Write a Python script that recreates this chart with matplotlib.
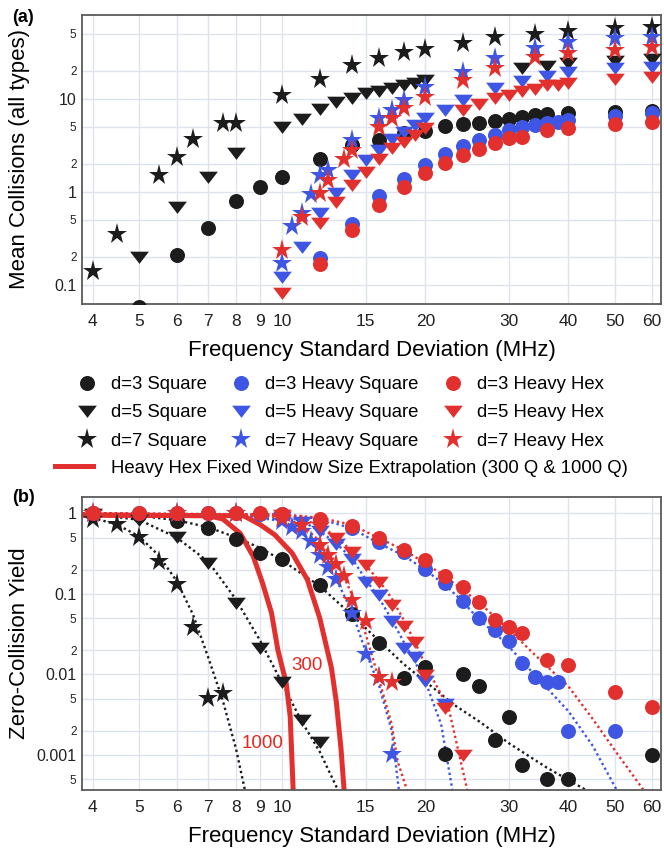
import matplotlib
matplotlib.use('Agg')
import matplotlib.pyplot as plt
from matplotlib.ticker import FixedLocator, FixedFormatter, NullLocator
from matplotlib.lines import Line2D

plt.rcParams['font.family'] = ['Liberation Sans', 'DejaVu Sans']

BLACK = '#1c1c1c'
BLUE = '#3e56e3'
RED = '#e2302f'

# ---------------- panel (a): mean collisions ----------------
a_sq3_x = [5, 6, 7, 8, 9, 10, 12, 14, 16, 18, 20, 22, 24, 26, 28, 30, 32, 34, 36, 40, 50, 60]
a_sq3_y = [0.058, 0.21, 0.41, 0.8, 1.13, 1.45, 2.23, 3.18, 3.6, 4.3, 4.5, 5.1, 5.38, 5.5, 5.78, 6.1, 6.4,
           6.6, 6.8, 7.0, 7.2, 7.3]
a_sq5_x = [5, 6, 7, 8, 10, 11, 12, 13, 14, 15, 16, 17, 18, 19, 20, 32, 36, 40, 50, 60]
a_sq5_y = [0.2, 0.68, 1.45, 2.63, 5.0, 6.1, 7.8, 9.3, 10.1, 11.5, 12.2, 12.9, 14.1, 14.9, 15.9, 21.2, 22.4,
           24.0, 25.5, 26.4]
a_sq7_x = [4, 4.5, 5.5, 6, 6.5, 7.5, 8, 10, 12, 14, 16, 18, 20, 24, 28, 34, 40, 50, 60]
a_sq7_y = [0.14, 0.35, 1.5, 2.38, 3.66, 5.43, 5.43, 11.0, 16.2, 23.0, 27.5, 32.0, 34.0, 40.0, 45.5, 50.0,
           53.5, 57.0, 58.5]

a_hs3_x = [12, 14, 16, 18, 20, 22, 24, 26, 28, 30, 32, 34, 36, 38, 40, 50, 60]
a_hs3_y = [0.195, 0.45, 0.89, 1.36, 1.94, 2.56, 3.1, 3.6, 4.1, 4.6, 4.95, 5.25, 5.5, 5.6, 5.9, 6.5, 6.96]
a_hs5_x = [10, 11, 12, 13, 14, 15, 16, 17, 18, 19, 20, 22, 24, 28, 32, 36, 40, 50, 60]
a_hs5_y = [0.12, 0.256, 0.59, 0.96, 1.51, 2.19, 2.8, 3.66, 4.42, 5.2, 6.15, 7.6, 9.7, 12.9, 15.5, 17.7,
           19.2, 21.2, 22.0]
a_hs7_x = [10, 10.5, 11, 11.5, 12, 12.5, 14, 16, 17, 18, 20, 24, 28, 34, 40, 50, 60]
a_hs7_y = [0.17, 0.43, 0.59, 0.94, 1.51, 1.71, 3.6, 6.15, 7.56, 9.68, 13.5, 19.5, 27.2, 34.8, 41.0,
           44.6, 46.4]

a_hh3_x = [12, 14, 16, 18, 20, 22, 24, 26, 28, 30, 32, 36, 40, 50, 60]
a_hh3_y = [0.168, 0.39, 0.72, 1.13, 1.59, 2.05, 2.45, 2.9, 3.31, 3.75, 3.9, 4.56, 4.8, 5.4, 5.6]
a_hh5_x = [10, 12, 13, 14, 15, 16, 17, 18, 19, 20, 24, 26, 28, 30, 32, 34, 36, 38, 40, 50, 60]
a_hh5_y = [0.081, 0.46, 0.78, 1.18, 1.64, 2.23, 2.93, 3.45, 4.07, 4.8, 7.56, 8.8, 10.1, 11.0, 12.1,
           12.7, 14.0, 14.0, 14.6, 16.2, 17.2]
a_hh7_x = [10, 11, 12, 12.5, 13.5, 14, 16, 17, 18, 20, 24, 28, 34, 40, 50, 60]
a_hh7_y = [0.236, 0.54, 0.97, 1.35, 2.23, 2.8, 4.92, 6.15, 7.88, 10.5, 15.9, 21.2, 28.3, 30.8, 33.4, 36.3]

# ---------------- panel (b): zero-collision yield ----------------
b_sq3_x = [4, 5, 6, 7, 8, 9, 10, 12, 14, 16, 18, 20, 22, 24, 26, 28, 30, 32, 36, 40, 60]
b_sq3_y = [1.0, 0.95, 0.79, 0.66, 0.485, 0.32, 0.273, 0.128, 0.056, 0.0244, 0.0091, 0.0125, 0.00102,
           0.0102, 0.0071, 0.00154, 0.003, 0.00075, 0.0005, 0.0005, 0.001]
b_sq5_x = [4, 5, 6, 7, 8, 9, 10, 11, 12]
b_sq5_y = [0.98, 0.83, 0.51, 0.24, 0.076, 0.021, 0.0081, 0.0027, 0.00147]
b_sq7_x = [4, 4.5, 5, 5.5, 6, 6.5, 7, 7.5]
b_sq7_y = [0.86, 0.73, 0.51, 0.258, 0.133, 0.0385, 0.0051, 0.0059]

b_hs3_x = [4, 5, 6, 7, 8, 9, 10, 12, 14, 16, 18, 20, 22, 24, 26, 28, 30, 32, 34, 36, 38, 40, 50]
b_hs3_y = [1.0, 1.0, 1.0, 1.0, 1.0, 0.99, 0.97, 0.82, 0.66, 0.44, 0.33, 0.204, 0.135, 0.081, 0.05,
           0.0357, 0.026, 0.014, 0.0092, 0.0081, 0.0081, 0.002, 0.002]
b_hs5_x = [10, 11, 12, 13, 14, 15, 16, 17, 18, 19, 20, 22]
b_hs5_y = [0.9, 0.78, 0.6, 0.42, 0.27, 0.14, 0.097, 0.046, 0.0216, 0.0166, 0.0082, 0.0043]
b_hs7_x = [4, 6, 8, 10, 10.5, 11, 11.5, 12, 12.5, 13, 14, 15, 16, 17]
b_hs7_y = [1.0, 1.0, 1.0, 0.8, 0.68, 0.6, 0.45, 0.3, 0.216, 0.152, 0.058, 0.0178, 0.0092, 0.00102]

b_hh3_x = [4, 5, 6, 7, 8, 9, 10, 12, 14, 16, 18, 20, 22, 24, 26, 28, 30, 32, 36, 40, 50, 60]
b_hh3_y = [1.0, 1.0, 1.0, 1.0, 1.0, 1.0, 0.99, 0.86, 0.7, 0.5, 0.35, 0.264, 0.167, 0.12, 0.079, 0.0474,
           0.039, 0.0325, 0.0152, 0.0131, 0.006, 0.004]
b_hh5_x = [10, 12, 13, 14, 15, 16, 17, 18, 19, 20, 22, 24]
b_hh5_y = [0.95, 0.68, 0.49, 0.33, 0.226, 0.139, 0.073, 0.04, 0.025, 0.0099, 0.0038, 0.001]
b_hh7_x = [4, 6, 8, 10, 11, 12, 12.5, 13, 13.5, 14, 15, 16, 17]
b_hh7_y = [1.0, 1.0, 1.0, 0.88, 0.71, 0.4, 0.3, 0.235, 0.165, 0.085, 0.046, 0.0092, 0.0081]

# dotted fit curves
fit_sq3_x = [3.8, 5, 6, 7, 8, 9, 10, 12, 14, 16, 18, 20, 23, 26, 30, 36, 43.5]
fit_sq3_y = [1.0, 0.93, 0.82, 0.67, 0.5, 0.37, 0.26, 0.125, 0.055, 0.026, 0.0135, 0.0082, 0.0042,
             0.0026, 0.0014, 0.0007, 0.00037]
fit_sq5_x = [3.8, 4, 5, 6, 7, 8, 9, 10, 11, 12, 13.1]
fit_sq5_y = [0.99, 0.97, 0.83, 0.5, 0.25, 0.085, 0.026, 0.0078, 0.0026, 0.0011, 0.00037]
fit_sq7_x = [3.8, 4, 4.5, 5, 5.5, 6, 6.5, 7, 7.5, 8, 8.35]
fit_sq7_y = [0.92, 0.88, 0.72, 0.52, 0.3, 0.145, 0.055, 0.016, 0.0048, 0.0012, 0.00037]
fit_hs3_x = [3.8, 10, 12, 14, 16, 18, 20, 22, 24, 26, 28, 30, 34, 40, 45, 50.5]
fit_hs3_y = [0.99, 0.96, 0.85, 0.65, 0.42, 0.3, 0.198, 0.129, 0.08, 0.047, 0.033, 0.022, 0.0098,
             0.0035, 0.0013, 0.00037]
fit_hs5_x = [3.8, 10, 11, 12, 13, 14, 15, 16, 17, 18, 19, 20, 21.6, 22.8]
fit_hs5_y = [0.99, 0.93, 0.8, 0.6, 0.42, 0.28, 0.15, 0.088, 0.048, 0.0256, 0.0145, 0.0082, 0.0024,
             0.00037]
fit_hs7_x = [3.8, 8, 10, 10.5, 11, 11.5, 12, 12.5, 13, 14, 15, 16, 17, 17.6]
fit_hs7_y = [0.99, 0.96, 0.8, 0.7, 0.58, 0.44, 0.31, 0.22, 0.15, 0.062, 0.019, 0.0072, 0.002, 0.00037]
fit_hh3_x = [3.8, 10, 12, 14, 16, 18, 20, 22, 24, 26, 28, 30, 34, 40, 45, 50, 57.5]
fit_hh3_y = [0.99, 0.97, 0.88, 0.72, 0.49, 0.35, 0.24, 0.164, 0.112, 0.077, 0.052, 0.036, 0.0175,
             0.0071, 0.0028, 0.00116, 0.00037]
fit_hh5_x = [3.8, 10, 11, 12, 13, 14, 15, 16, 17, 18, 19, 20, 22.4, 24.5]
fit_hh5_y = [0.99, 0.95, 0.85, 0.7, 0.51, 0.34, 0.225, 0.145, 0.088, 0.048, 0.0256, 0.0131, 0.0038,
             0.00037]
fit_hh7_x = [3.8, 8, 10, 11, 12, 12.5, 13, 13.5, 14, 15, 16, 17, 17.5, 18.3]
fit_hh7_y = [0.99, 0.97, 0.88, 0.72, 0.45, 0.33, 0.24, 0.16, 0.1, 0.031, 0.0085, 0.0024, 0.00083,
             0.00037]

# heavy hex fixed window extrapolations
ext300_x = [3.8, 8.3, 9.0, 9.65, 10.5, 11.3, 12.0, 12.7, 13.0, 13.3, 13.5]
ext300_y = [0.95, 0.93, 0.72, 0.54, 0.32, 0.15, 0.05, 0.012, 0.0046, 0.0012, 0.00037]
ext1000_x = [3.8, 7.0, 7.5, 8.16, 8.7, 9.1, 9.5, 9.8, 10.2, 10.4, 10.55]
ext1000_y = [0.95, 0.93, 0.85, 0.565, 0.29, 0.135, 0.058, 0.02, 0.0078, 0.003, 0.00037]

x_ticks = [4, 5, 6, 7, 8, 9, 10, 15, 20, 30, 40, 50, 60]
a_major = [0.1, 1, 10]
a_minor = [0.2, 0.5, 2, 5, 20, 50]
b_major = [0.001, 0.01, 0.1, 1]
b_minor = [0.0005, 0.002, 0.005, 0.02, 0.05, 0.2, 0.5]

labels = ['d=3 Square', 'd=5 Square', 'd=7 Square',
          'd=3 Heavy Square', 'd=5 Heavy Square', 'd=7 Heavy Square',
          'd=3 Heavy Hex', 'd=5 Heavy Hex', 'd=7 Heavy Hex']

TRI = [(-1, 0.62), (1, 0.62), (0, -0.68)]
marker_style = {'o': ('o', 10.8), 'v': (TRI, 13.5), '*': ('*', 15.5)}


def style_axis(ax, ylim, major, minor):
    ax.set_xscale('log')
    ax.set_yscale('log')
    ax.set_xlim(3.796, 62.6)
    ax.set_ylim(*ylim)
    ax.xaxis.set_major_locator(FixedLocator(x_ticks))
    ax.xaxis.set_major_formatter(FixedFormatter([str(t) for t in x_ticks]))
    ax.xaxis.set_minor_locator(NullLocator())
    ax.yaxis.set_major_locator(FixedLocator(major))
    ax.yaxis.set_major_formatter(FixedFormatter(['%g' % v for v in major]))
    ax.yaxis.set_minor_locator(FixedLocator(minor))
    ax.yaxis.set_minor_formatter(FixedFormatter([('%g' % v).replace('.', '').strip('0') for v in minor]))
    ax.tick_params(which='both', length=0, colors='#222222')
    ax.tick_params(axis='x', labelsize=12.5, pad=7)
    ax.tick_params(axis='y', which='major', labelsize=11.5, pad=4)
    ax.tick_params(axis='y', which='minor', labelsize=8.5, pad=4)
    ax.grid(True, which='both', color='#dfe3ee', lw=1.0)
    ax.set_axisbelow(True)
    for s in ax.spines.values():
        s.set_color('#5a5a5a')
        s.set_linewidth(1.3)
    ax.set_xlabel('Frequency Standard Deviation (MHz)', fontsize=16, labelpad=8)


def draw_points(ax, series):
    for xs, ys, color, mk in series:
        m, ms = marker_style[mk]
        ax.plot(xs, ys, linestyle='none', marker=m, markersize=ms, color=color,
                markeredgewidth=0, zorder=3)


fig = plt.figure(figsize=(6.64, 8.48), dpi=100)
ax_a = fig.add_axes([82 / 664, 1 - 304 / 848, 579 / 664, 289 / 848])
ax_b = fig.add_axes([82 / 664, 1 - 790 / 848, 579 / 664, 293 / 848])

# panel (a)
style_axis(ax_a, (0.062, 79.4), a_major, a_minor)
draw_points(ax_a, [
    (a_sq3_x, a_sq3_y, BLACK, 'o'), (a_sq5_x, a_sq5_y, BLACK, 'v'), (a_sq7_x, a_sq7_y, BLACK, '*'),
    (a_hs3_x, a_hs3_y, BLUE, 'o'), (a_hs5_x, a_hs5_y, BLUE, 'v'), (a_hs7_x, a_hs7_y, BLUE, '*'),
    (a_hh3_x, a_hh3_y, RED, 'o'), (a_hh5_x, a_hh5_y, RED, 'v'), (a_hh7_x, a_hh7_y, RED, '*'),
])
ax_a.set_ylabel('Mean Collisions (all types)', fontsize=16, va='center')
ax_a.yaxis.set_label_coords(-62 / 579, 0.5)

# panel (b)
style_axis(ax_b, (0.000369, 1.59), b_major, b_minor)
dot = (0, (1.0, 1.3))
for fx, fy, c in [(fit_sq3_x, fit_sq3_y, BLACK), (fit_sq5_x, fit_sq5_y, BLACK), (fit_sq7_x, fit_sq7_y, BLACK),
                  (fit_hs3_x, fit_hs3_y, BLUE), (fit_hs5_x, fit_hs5_y, BLUE), (fit_hs7_x, fit_hs7_y, BLUE),
                  (fit_hh3_x, fit_hh3_y, RED), (fit_hh5_x, fit_hh5_y, RED), (fit_hh7_x, fit_hh7_y, RED)]:
    ax_b.plot(fx, fy, color=c, lw=1.7, linestyle=dot, zorder=2)
ax_b.plot(ext300_x, ext300_y, color=RED, lw=3.6, zorder=2.5, solid_joinstyle='round')
ax_b.plot(ext1000_x, ext1000_y, color=RED, lw=3.6, zorder=2.5, solid_joinstyle='round')
draw_points(ax_b, [
    (b_sq3_x, b_sq3_y, BLACK, 'o'), (b_sq5_x, b_sq5_y, BLACK, 'v'), (b_sq7_x, b_sq7_y, BLACK, '*'),
    (b_hs3_x, b_hs3_y, BLUE, 'o'), (b_hs5_x, b_hs5_y, BLUE, 'v'), (b_hs7_x, b_hs7_y, BLUE, '*'),
    (b_hh3_x, b_hh3_y, RED, 'o'), (b_hh5_x, b_hh5_y, RED, 'v'), (b_hh7_x, b_hh7_y, RED, '*'),
])
ax_b.text(11.3, 0.0131, '300', color='#e8261f', fontsize=13.5, ha='center', va='center')
ax_b.text(9.1, 0.0014, '1000', color='#e8261f', fontsize=13.5, ha='center', va='center')
ax_b.set_ylabel('Zero-Collision Yield', fontsize=16, va='center')
ax_b.yaxis.set_label_coords(-62 / 579, 0.5)

# legend
handles = []
for color in [BLACK, BLUE, RED]:
    for mk in ['o', 'v', '*']:
        m, ms = marker_style[mk]
        handles.append(Line2D([], [], linestyle='none', marker=m, markersize=ms, color=color,
                              markeredgewidth=0))
fig.legend(handles, labels, ncol=3, loc='center left', bbox_to_anchor=(76 / 664, 1 - 413 / 848),
           frameon=False, fontsize=13.3, handlelength=1.2, handletextpad=0.7, columnspacing=1.25,
           labelspacing=0.6, borderpad=0, borderaxespad=0)
fig.legend([Line2D([], [], color=RED, lw=3.6)],
           ['Heavy Hex Fixed Window Size Extrapolation (300 Q & 1000 Q)'],
           loc='center left', bbox_to_anchor=(55 / 664, 1 - 468 / 848), frameon=False, fontsize=13.3,
           handlelength=2.06, handletextpad=0.98, borderpad=0, borderaxespad=0)

fig.text(12 / 664, 1 - 17 / 848, '(a)', fontsize=13, fontweight='bold', va='center')
fig.text(12 / 664, 1 - 497 / 848, '(b)', fontsize=13, fontweight='bold', va='center')

fig.savefig('out.png', dpi=100)
